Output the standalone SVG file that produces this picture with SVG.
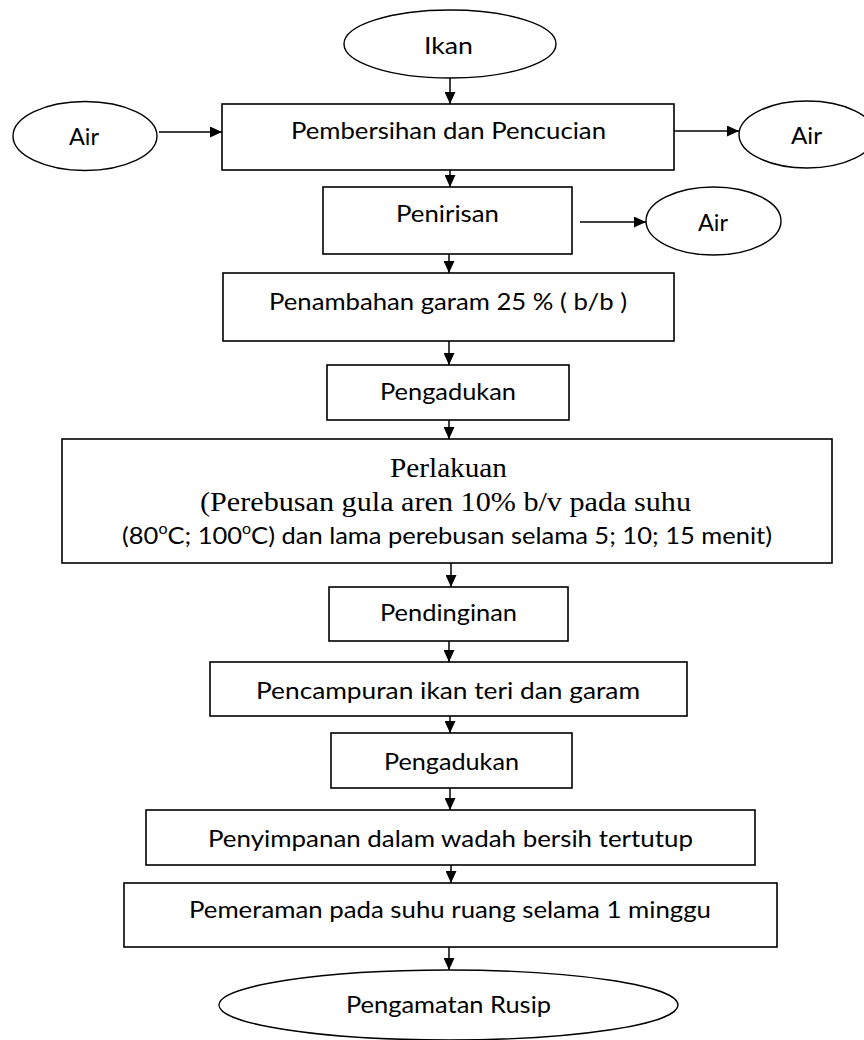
<svg xmlns="http://www.w3.org/2000/svg" width="864" height="1040" viewBox="0 0 864 1040">
  <style>
    .box { fill: #ffffff; stroke: #000000; stroke-width: 1.6; }
    .oval { fill: #ffffff; stroke: #000000; stroke-width: 1.4; }
    .lbl { font-family: Lato, "Open Sans", "Liberation Sans", sans-serif; font-size: 24px; fill: #000000; }
    .ser { font-family: "Liberation Serif", "DejaVu Serif", serif; font-size: 28px; fill: #000000; }
    .sup { font-size: 15px; }
    .flow line { stroke: #000000; stroke-width: 1.5; marker-end: url(#head); }
  </style>
  <defs>
    <marker id="head" viewBox="0 0 12 11" refX="12" refY="5.5" markerWidth="12" markerHeight="11" markerUnits="userSpaceOnUse" orient="auto">
      <path d="M0,0 L12,5.5 L0,11 z" fill="#000000"/>
    </marker>
  </defs>
  <rect width="864" height="1040" fill="#ffffff"/>

  <!-- connectors -->
  <g id="connectors" class="flow">
    <line x1="450" y1="78" x2="450" y2="104"/>
    <line x1="159" y1="132" x2="222" y2="132"/>
    <line x1="674" y1="131" x2="739" y2="131"/>
    <line x1="450" y1="163" x2="450" y2="187"/>
    <line x1="580" y1="222" x2="646" y2="222"/>
    <line x1="449" y1="248" x2="449" y2="273"/>
    <line x1="449" y1="338" x2="449" y2="365"/>
    <line x1="449" y1="416" x2="449" y2="439"/>
    <line x1="451" y1="559" x2="451" y2="587"/>
    <line x1="449" y1="636" x2="449" y2="662"/>
    <line x1="450" y1="706" x2="450" y2="733"/>
    <line x1="450" y1="783" x2="450" y2="810"/>
    <line x1="451" y1="860" x2="451" y2="883"/>
    <line x1="449" y1="945" x2="449" y2="970"/>
  </g>

  <g id="ikan">
    <ellipse class="oval" cx="450" cy="44" rx="106" ry="34"/>
    <text class="lbl" x="424" y="54" textLength="49" lengthAdjust="spacingAndGlyphs">Ikan</text>
  </g>

  <g id="air-in">
    <ellipse class="oval" cx="85" cy="136" rx="72" ry="34.5"/>
    <text class="lbl" x="69" y="145" textLength="30" lengthAdjust="spacingAndGlyphs">Air</text>
  </g>

  <g id="pembersihan">
    <rect class="box" x="222" y="104" width="452" height="66"/>
    <text class="lbl" x="291" y="139" textLength="315" lengthAdjust="spacingAndGlyphs">Pembersihan dan Pencucian</text>
  </g>

  <g id="air-out-1">
    <ellipse class="oval" cx="807" cy="134.5" rx="68" ry="33.5"/>
    <text class="lbl" x="791" y="144" textLength="31" lengthAdjust="spacingAndGlyphs">Air</text>
  </g>

  <g id="penirisan">
    <rect class="box" x="323" y="187" width="249" height="67"/>
    <text class="lbl" x="396" y="222" textLength="103" lengthAdjust="spacingAndGlyphs">Penirisan</text>
  </g>

  <g id="air-out-2">
    <ellipse class="oval" cx="713.5" cy="221" rx="67.5" ry="34"/>
    <text class="lbl" x="698" y="231" textLength="30" lengthAdjust="spacingAndGlyphs">Air</text>
  </g>

  <g id="penambahan-garam">
    <rect class="box" x="223" y="273" width="451" height="68"/>
    <text class="lbl" x="269" y="310" textLength="358" lengthAdjust="spacingAndGlyphs">Penambahan garam 25 % ( b/b )</text>
  </g>

  <g id="pengadukan-1">
    <rect class="box" x="327" y="365" width="242" height="55"/>
    <text class="lbl" x="380" y="400" textLength="136" lengthAdjust="spacingAndGlyphs">Pengadukan</text>
  </g>

  <g id="perlakuan">
    <rect class="box" x="62" y="439" width="770" height="124"/>
    <text class="ser" x="390" y="477" textLength="117" lengthAdjust="spacingAndGlyphs">Perlakuan</text>
    <text class="ser" x="200" y="511" textLength="491" lengthAdjust="spacingAndGlyphs">(Perebusan gula aren 10% b/v pada suhu</text>
    <text class="lbl" x="122" y="544" textLength="650" lengthAdjust="spacingAndGlyphs">(80<tspan class="sup" dy="-10">o</tspan><tspan dy="10">C; 100</tspan><tspan class="sup" dy="-10">o</tspan><tspan dy="10">C) dan lama perebusan selama 5; 10; 15 menit)</tspan></text>
  </g>

  <g id="pendinginan">
    <rect class="box" x="329" y="587" width="239" height="54"/>
    <text class="lbl" x="380" y="621" textLength="137" lengthAdjust="spacingAndGlyphs">Pendinginan</text>
  </g>

  <g id="pencampuran">
    <rect class="box" x="210" y="662" width="477" height="54"/>
    <text class="lbl" x="256" y="699" textLength="384" lengthAdjust="spacingAndGlyphs">Pencampuran ikan teri  dan garam</text>
  </g>

  <g id="pengadukan-2">
    <rect class="box" x="331" y="733" width="241" height="55"/>
    <text class="lbl" x="384" y="770" textLength="135" lengthAdjust="spacingAndGlyphs">Pengadukan</text>
  </g>

  <g id="penyimpanan">
    <rect class="box" x="146" y="810" width="609" height="55"/>
    <text class="lbl" x="208" y="847" textLength="485" lengthAdjust="spacingAndGlyphs">Penyimpanan dalam wadah bersih tertutup</text>
  </g>

  <g id="pemeraman">
    <rect class="box" x="124" y="883" width="653" height="64"/>
    <text class="lbl" x="189" y="918" textLength="522" lengthAdjust="spacingAndGlyphs">Pemeraman pada suhu ruang selama 1 minggu</text>
  </g>

  <g id="pengamatan">
    <ellipse class="oval" cx="448.5" cy="1005" rx="229.5" ry="35"/>
    <text class="lbl" x="346" y="1013" textLength="205" lengthAdjust="spacingAndGlyphs">Pengamatan Rusip</text>
  </g>
</svg>
